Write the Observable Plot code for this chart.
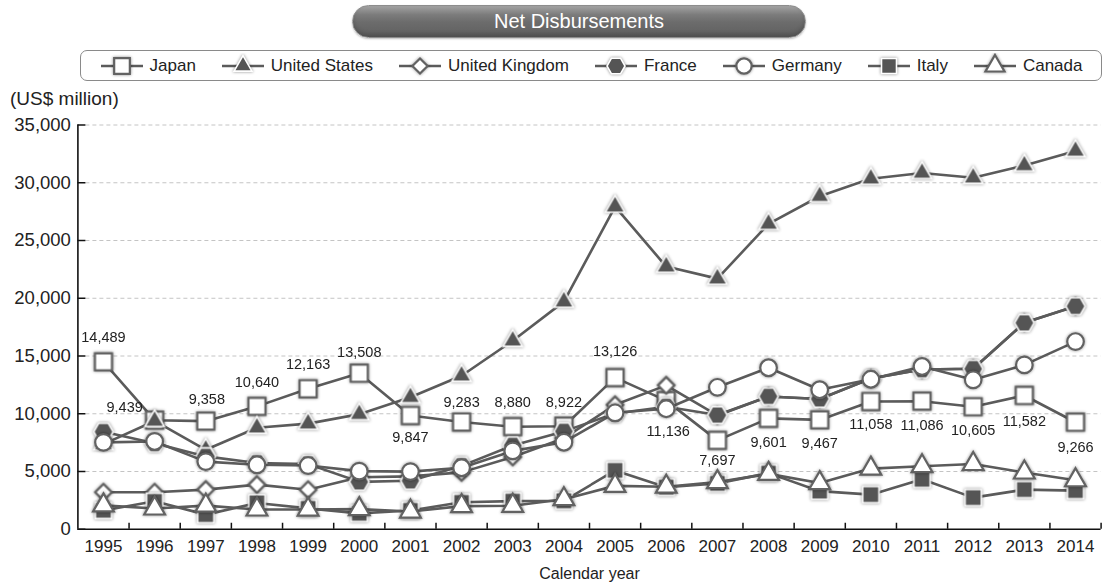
<!DOCTYPE html>
<html>
<head>
<meta charset="utf-8">
<script src="https://cdn.jsdelivr.net/npm/d3@7"></script>
<script src="https://cdn.jsdelivr.net/npm/@observablehq/plot@0.6"></script>
<style>
  body { margin: 0; background: #fff; font-family: "Liberation Sans", Arial, sans-serif; color: #222; }
  #wrap { position: relative; width: 1108px; height: 584px; overflow: hidden; }
  #title {
    position: absolute; left: 352px; top: 5px; width: 454px; height: 33px;
    border-radius: 17px; box-sizing: border-box; border: 1px solid #8d8d8d;
    background: linear-gradient(to bottom, #a3a3a3 0%, #7c7c7c 28%, #6c6c6c 52%, #5f5f5f 100%);
    box-shadow: inset 0 -3px 4px rgba(0,0,0,0.18), 0 1px 2px rgba(0,0,0,0.25);
    color: #fff; font-size: 20px; display: flex; align-items: center; justify-content: center;
  }
  #legend {
    position: absolute; left: 80px; top: 50px; width: 1022px; height: 31px; box-sizing: border-box;
    border: 1px solid #8a8a8a; border-radius: 7px; background: #fff;
    display: flex; align-items: center; justify-content: center; gap: 25px; font-size: 17px;
  }
  .item { display: flex; align-items: center; gap: 6px; white-space: nowrap; }
  .item svg { display: block; }
  #unit { position: absolute; left: 10px; top: 88px; font-size: 19px; }
  #chart { position: absolute; left: 0; top: 88px; }
  .mk { filter: drop-shadow(0px 0px 1.4px rgba(0,0,0,0.45)); }
</style>
</head>
<body>
<div id="wrap">
  <div id="title">Net Disbursements</div>
  <div id="legend"></div>
  <div id="unit">(US$ million)</div>
  <div id="chart"></div>
</div>
<script>
// Net ODA disbursements of the G7 donors, US$ million
const years = [1995, 1996, 1997, 1998, 1999, 2000, 2001, 2002, 2003, 2004,
               2005, 2006, 2007, 2008, 2009, 2010, 2011, 2012, 2013, 2014];
const countries = ["Japan", "United States", "United Kingdom", "France", "Germany", "Italy", "Canada"];
const japan         = [14489, 9439, 9358, 10640, 12163, 13508, 9847, 9283, 8880, 8922,
                       13126, 11136, 7697, 9601, 9467, 11058, 11086, 10605, 11582, 9266];
const unitedStates  = [7367, 9377, 6878, 8786, 9145, 9955, 11429, 13290, 16320, 19705,
                       27935, 22740, 21700, 26437, 28831, 30353, 30850, 30430, 31500, 32750];
const unitedKingdom = [3202, 3199, 3433, 3864, 3426, 4501, 4579, 4924, 6262, 7883,
                       10772, 12459, 9849, 11500, 11283, 13053, 13832, 13891, 17871, 19306];
const france        = [8443, 7451, 6307, 5742, 5639, 4105, 4198, 5486, 7253, 8473,
                       10026, 10601, 9884, 11500, 11283, 13053, 13832, 13891, 17871, 19306];
const germany       = [7524, 7601, 5857, 5581, 5515, 5030, 4990, 5324, 6784, 7534,
                       10082, 10435, 12291, 13981, 12079, 12985, 14093, 12939, 14228, 16249];
const italy         = [1623, 2416, 1266, 2278, 1806, 1376, 1627, 2332, 2433, 2462,
                       5091, 3641, 3971, 4861, 3297, 2996, 4326, 2737, 3430, 3342];
const canada        = [2067, 1795, 2045, 1707, 1706, 1744, 1533, 2004, 2031, 2599,
                       3756, 3684, 4080, 4795, 4000, 5250, 5459, 5650, 4911, 4240];
const yTicks = [0, 5000, 10000, 15000, 20000, 25000, 30000, 35000];
const xTitle = "Calendar year";

const seriesValues = [japan, unitedStates, unitedKingdom, france, germany, italy, canada];

// long-format table: one row per country and year
const rows = countries.flatMap((name, i) =>
  years.map((year, j) => ({name, year, value: seriesValues[i][j]})));

// flat-topped hexagon symbol
const hexagonFlat = {
  draw(ctx, size) {
    const r = Math.sqrt(size / Math.PI), h = r * Math.sqrt(3) / 2;
    ctx.moveTo(r, 0); ctx.lineTo(r / 2, h); ctx.lineTo(-r / 2, h);
    ctx.lineTo(-r, 0); ctx.lineTo(-r / 2, -h); ctx.lineTo(r / 2, -h); ctx.closePath();
  }
};

const LINE = "#5b5b5b", EDGE = "#626262", DARK = "#555555";
const FONT = "'Liberation Sans', Arial, sans-serif";
const styles = {
  "Japan":          {symbol: d3.symbolSquare,   r: 9.6, fill: "#fff", stroke: EDGE,  sw: 2.2},
  "United States":  {symbol: d3.symbolTriangle, r: 7.2, fill: DARK,   stroke: "#fff", sw: 1.6},
  "United Kingdom": {symbol: d3.symbolDiamond2, r: 7.4, fill: "#fff", stroke: EDGE,  sw: 2.2},
  "France":         {symbol: hexagonFlat,       r: 9.8, fill: DARK,   stroke: "#fff", sw: 1.6},
  "Germany":        {symbol: d3.symbolCircle,   r: 8.3, fill: "#fff", stroke: EDGE,  sw: 2.2},
  "Italy":          {symbol: d3.symbolSquare,   r: 9.2, fill: DARK,   stroke: "#fff", sw: 1.6},
  "Canada":         {symbol: d3.symbolTriangle, r: 7.7, fill: "#fff", stroke: EDGE,  sw: 2.2}
};

// legend
const legend = d3.select("#legend");
countries.forEach(name => {
  const s = styles[name];
  const item = legend.append("div").attr("class", "item");
  const svg = item.append("svg").attr("width", 44).attr("height", 26);
  svg.append("line").attr("x1", 1).attr("x2", 43).attr("y1", 13).attr("y2", 13)
    .attr("stroke", LINE).attr("stroke-width", 2.4);
  svg.append("path").attr("class", "mk").attr("transform", "translate(22,13)")
    .attr("d", d3.symbol(s.symbol, Math.PI * (s.r * 0.92) ** 2)())
    .attr("fill", s.fill).attr("stroke", s.stroke).attr("stroke-width", s.sw);
  item.append("span").text(name);
});

// chart geometry
const W = 1108, H = 496;
const mL = 77.4, mR = 7.4, mT = 36.5, mB = 55.25;
const frameW = W - mL - mR, frameH = H - mT - mB;
const boundaries = years.map(y => y + 0.5);

// Japan value labels: offsets from the marker
const labelOffsets = {
  1995: [0, -25], 1996: [-30, -13], 1997: [1, -22], 1998: [0, -24], 1999: [0, -24],
  2000: [0, -21], 2001: [0, 22], 2002: [0, -20], 2003: [0, -24], 2004: [0, -24],
  2005: [0, -26], 2006: [2, 31], 2007: [0, 20], 2008: [0, 24], 2009: [0, 23],
  2010: [0, 23], 2011: [0, 24], 2012: [0, 24], 2013: [0, 26], 2014: [0, 25]
};
const japanRows = rows.filter(d => d.name === "Japan");
const offsetGroups = d3.groups(japanRows, d => labelOffsets[d.year].join(","));
const fmt = d3.format(",");

const seriesMarks = countries.flatMap(name => {
  const s = styles[name];
  const data = rows.filter(d => d.name === name);
  return [
    Plot.line(data, {x: "year", y: "value", stroke: LINE, strokeWidth: 2.6}),
    Plot.dot(data, {x: "year", y: "value", symbol: s.symbol, r: s.r, fill: s.fill,
                    stroke: s.stroke, strokeWidth: s.sw, className: "mk"})
  ];
});

const labelMarks = offsetGroups.map(([key, data]) => {
  const [dx, dy] = key.split(",").map(Number);
  return Plot.text(data, {x: "year", y: "value", text: d => fmt(d.value), dx, dy,
                          fontSize: 14.5, fill: "#222", lineAnchor: "middle"});
});

const chart = Plot.plot({
  width: W, height: H,
  marginLeft: mL, marginRight: mR, marginTop: mT, marginBottom: mB,
  style: {fontFamily: FONT, color: "#222", background: "transparent", overflow: "visible"},
  x: {type: "linear", domain: [years[0] - 0.5, years[years.length - 1] + 0.5]},
  y: {domain: [0, 35000]},
  marks: [
    Plot.ruleY(yTicks.slice(1), {stroke: "#c4c4c4", strokeWidth: 1, strokeDasharray: "4,3", insetLeft: 8}),
    Plot.ruleY(yTicks, {stroke: "#111", strokeWidth: 1.5, insetRight: frameW - 8}),
    Plot.ruleX(boundaries, {stroke: "#111", strokeWidth: 1.5, insetTop: frameH - 6}),
    Plot.ruleX([years[0] - 0.5], {stroke: "#111", strokeWidth: 1.6}),
    Plot.ruleY([0], {stroke: "#111", strokeWidth: 1.6}),
    Plot.axisY({ticks: yTicks, tickSize: 0, tickPadding: 7, tickFormat: fmt, fontSize: 18.5, label: null}),
    Plot.axisX({ticks: years, tickSize: 0, tickPadding: 11, tickFormat: d => String(d), fontSize: 17, label: null}),
    ...seriesMarks,
    ...labelMarks,
    Plot.text([xTitle], {frameAnchor: "bottom", dy: 50, fontSize: 16, fill: "#222"})
  ]
});
document.getElementById("chart").appendChild(chart);
</script>
</body>
</html>
